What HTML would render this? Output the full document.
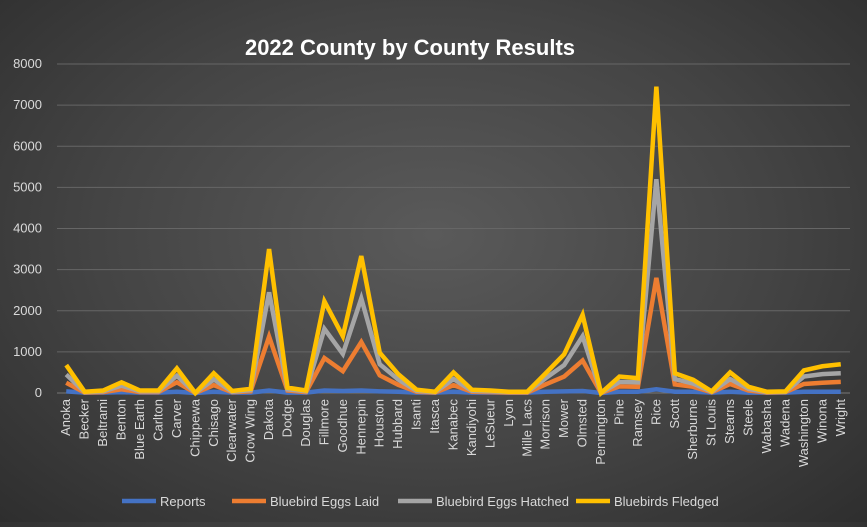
<!DOCTYPE html>
<html><head><meta charset="utf-8"><style>
html,body{margin:0;padding:0;}
body{width:867px;height:522px;overflow:hidden;background:radial-gradient(ellipse at 50% 45%,#5a5a5a 0%,#444 55%,#2e2e2e 100%);font-family:"Liberation Sans",sans-serif;}
</style></head><body>
<svg id="chart" width="867" height="522" xmlns="http://www.w3.org/2000/svg">
<text x="410" y="55" text-anchor="middle" font-size="22" font-weight="bold" fill="#fff">2022 County by County Results</text>
<g id="grid"></g><g id="lines"></g><g id="xlabels"></g><g id="legend"></g>
</svg>
<script>
const categories=["Anoka","Becker","Beltrami","Benton","Blue Earth","Carlton","Carver","Chippewa","Chisago","Clearwater","Crow Wing","Dakota","Dodge","Douglas","Fillmore","Goodhue","Hennepin","Houston","Hubbard","Isanti","Itasca","Kanabec","Kandiyohi","LeSueur","Lyon","Mille Lacs","Morrison","Mower","Olmsted","Pennington","Pine","Ramsey","Rice","Scott","Sherburne","St Louis","Stearns","Steele","Wabasha","Wadena","Washington","Winona","Wright"];
const reports=[40,10,10,20,10,10,30,0,30,10,10,60,10,10,60,50,60,40,30,10,10,30,10,10,10,10,30,40,50,0,30,30,90,30,30,10,30,10,10,10,30,30,30];
const eggsLaid=[250,10,20,90,20,20,260,0,190,20,40,1370,60,20,850,530,1240,430,200,30,10,190,30,20,10,10,210,400,790,0,160,150,2800,210,150,20,220,60,10,20,220,250,270];
const eggsHatched=[450,20,40,180,40,40,420,0,330,30,70,2450,90,40,1560,950,2300,700,330,50,20,340,50,40,20,20,360,680,1380,0,270,260,5200,340,230,30,340,100,20,30,400,460,480];
const fledged=[680,30,60,260,60,60,600,0,480,50,100,3500,130,60,2230,1380,3330,980,460,80,30,500,80,60,30,30,480,940,1900,0,400,360,7450,480,320,40,500,150,30,40,550,650,700];
const yTicks=[0,1000,2000,3000,4000,5000,6000,7000,8000];
const seriesNames=["Reports","Bluebird Eggs Laid","Bluebird Eggs Hatched","Bluebirds Fledged"];
const colors=["#4472c4","#ed7d31","#a5a5a5","#ffc000"];
const NS="http://www.w3.org/2000/svg";
const left=57,right=850,y0=393,yTop=64;
const step=(right-left)/categories.length;
const X=i=>left+step*(i+0.5);
const Y=v=>y0-(v/8000)*(y0-yTop);
function mk(t,a,p){const e=document.createElementNS(NS,t);for(const k in a)e.setAttribute(k,a[k]);p.appendChild(e);return e;}
const grid=document.getElementById('grid');
yTicks.forEach(t=>{
 const l=mk('line',{x1:left,x2:right,y1:Y(t),y2:Y(t),stroke:t===0?'#777':'#666','stroke-width':1},grid);
 
 
 const tx=mk('text',{x:42,y:Y(t)+4,'text-anchor':'end','font-size':13,fill:'#d9d9d9'},grid);
 tx.textContent=t;
 
 
});
const xl=document.getElementById('xlabels');
categories.forEach((c,i)=>{
 const t=mk('text',{x:0,y:0,'text-anchor':'end','font-size':13,fill:'#d9d9d9',transform:`translate(${X(i)+4},399) rotate(-90)`},xl);
 t.textContent=c;
 
 
});
const lines=document.getElementById('lines');
[reports,eggsLaid,eggsHatched,fledged].forEach((s,k)=>{
 const p=mk('polyline',{points:s.map((v,i)=>X(i)+','+Y(v)).join(' '),fill:'none',stroke:colors[k],'stroke-width':4.5,'stroke-linejoin':'miter'},lines);
 
 
});
const lg=document.getElementById('legend');
const lx=[122,232,398,576];
seriesNames.forEach((n,k)=>{
 const g=mk('g',{},lg);
 
 
 mk('line',{x1:lx[k],x2:lx[k]+34,y1:501,y2:501,stroke:colors[k],'stroke-width':4.5},g);
 const t=mk('text',{x:lx[k]+38,y:506,'font-size':13,fill:'#d9d9d9'},g);
 t.textContent=n;
});
</script>
</body></html>
